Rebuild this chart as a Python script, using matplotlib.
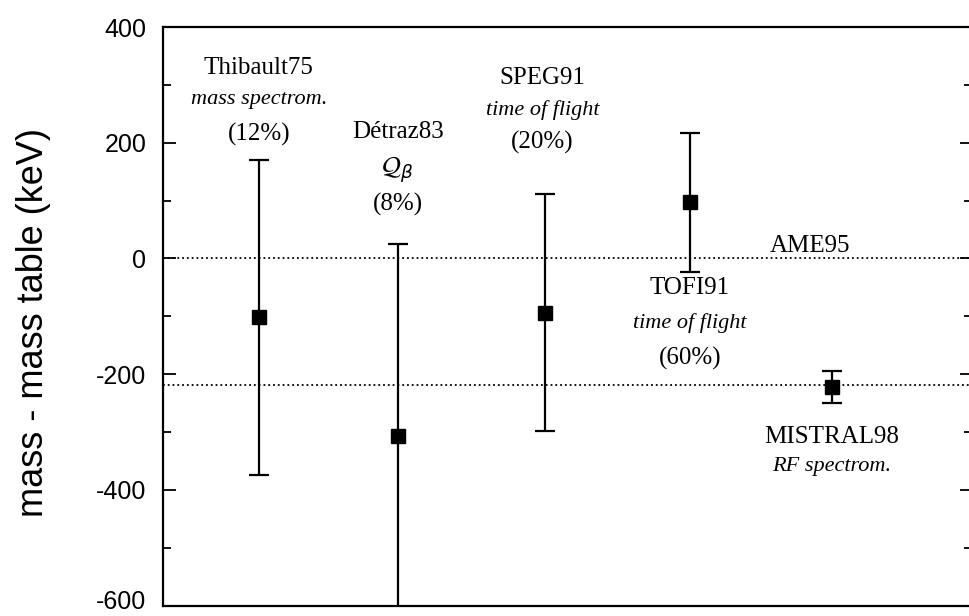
import matplotlib
matplotlib.use("Agg")
import matplotlib.pyplot as plt
import matplotlib.transforms as mtransforms
from matplotlib.ticker import MultipleLocator

plt.rcParams["axes.unicode_minus"] = False

# measurements (keV, relative to mass table)
names = ["Thibault75", "Détraz83", "SPEG91", "TOFI91", "MISTRAL98"]
xpos = [1.0, 1.97, 3.0, 4.01, 5.0]
values = [-102, -307, -94, 97, -222]
errors = [272, 332, 205, 120, 27]
ame95_line = 0
mistral_line = -218
y_ticks = [-600, -400, -200, 0, 200, 400]

fig = plt.figure(figsize=(9.7, 6.16), dpi=100)
ax = fig.add_axes([0.168, 0.017, 0.834, 0.939])

ax.errorbar(xpos, values, yerr=errors, fmt="s", color="black", ms=10,
            elinewidth=1.6, capsize=7, capthick=1.6, zorder=3)

ax.axhline(ame95_line, color="black", ls=":", lw=1.3, zorder=1)
ax.axhline(mistral_line, color="black", ls=":", lw=1.3, zorder=1)

ax.set_xlim(0.33, 5.98)
ax.set_ylim(-600, 400)
ax.set_yticks(y_ticks)
ax.yaxis.set_minor_locator(MultipleLocator(100))
ax.set_xticks([])
ax.tick_params(axis="y", which="both", direction="in", right=True, width=1.3)
ax.tick_params(axis="y", which="major", length=9, pad=12, labelsize=18)
ax.tick_params(axis="y", which="minor", length=6)
for lab in ax.get_yticklabels():
    lab.set_family("Liberation Sans")
# lift the bottom label a little so it stays inside the figure
low = ax.get_yticklabels()[0]
low.set_transform(low.get_transform() +
                  mtransforms.ScaledTranslation(0, 4 / 72, fig.dpi_scale_trans))
for s in ax.spines.values():
    s.set_linewidth(1.6)

ax.set_ylabel("mass - mass table (keV)", fontsize=26, family="Liberation Sans")
ax.yaxis.set_label_coords(-0.138, 0.49)

serif = "Liberation Serif"
kw = dict(ha="center", va="center", family=serif, fontsize=18)
ikw = dict(ha="center", va="center", family=serif, fontsize=16, style="italic")

ax.text(xpos[0], 329, "Thibault75", **kw)
ax.text(xpos[0], 274, "mass spectrom.", **ikw)
ax.text(xpos[0], 214, "(12%)", **kw)

ax.text(xpos[1], 218, "Détraz83", **kw)
ax.text(xpos[1], 154, r"$\mathcal{Q}_\beta$", ha="center", va="center", fontsize=19)
ax.text(xpos[1], 94, "(8%)", **kw)

ax.text(xpos[2] - 0.02, 312, "SPEG91", **kw)
ax.text(xpos[2] - 0.02, 257, "time of flight", **ikw)
ax.text(xpos[2] - 0.02, 200, "(20%)", **kw)

ax.text(4.85, 22, "AME95", **kw)

ax.text(xpos[3], -51, "TOFI91", **kw)
ax.text(xpos[3], -111, "time of flight", **ikw)
ax.text(xpos[3], -172, "(60%)", **kw)

ax.text(xpos[4], -309, "MISTRAL98", **kw)
ax.text(xpos[4], -360, "RF spectrom.", **ikw)

fig.savefig("out.png", dpi=100)
